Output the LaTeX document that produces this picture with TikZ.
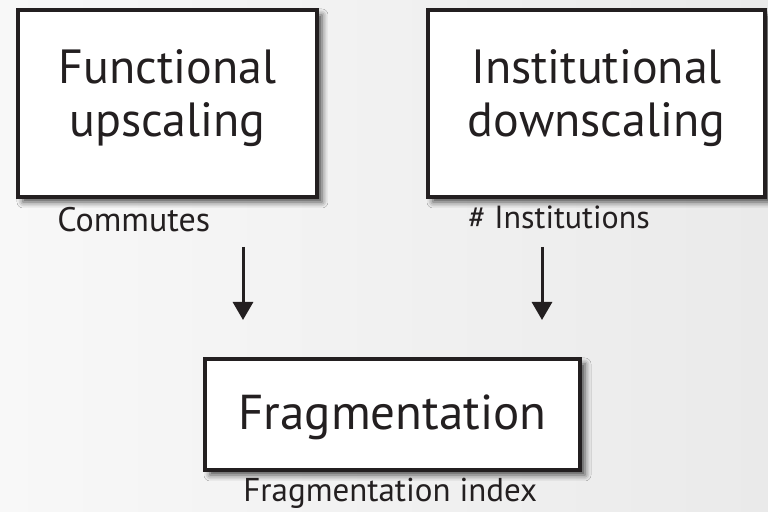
\documentclass[tikz,border=0pt]{standalone}
\usepackage{fontspec}
\setmainfont{PT Sans}
\usetikzlibrary{arrows.meta,shadows.blur}
\definecolor{bgL}{HTML}{F8F8F8}
\definecolor{bgR}{HTML}{EAEAEA}
\definecolor{ink}{HTML}{231F20}
\tikzset{
  mainbox/.style={draw=ink, line width=2pt, fill=white, rectangle, inner sep=0pt,
    blur shadow={shadow xshift=2.5pt, shadow yshift=-2.5pt, shadow blur radius=3pt, shadow opacity=70}},
  bigtext/.style={text=ink, align=center, inner sep=0pt, font=\fontsize{24pt}{26.5pt}\selectfont},
  lbl/.style={text=ink, inner sep=0pt, anchor=base west},
  flow/.style={draw=ink, line width=1.5pt, -{Triangle[width=10pt,length=9pt]}}
}
\begin{document}
\begin{tikzpicture}[x=0.5pt,y=-0.5pt]
\useasboundingbox (0,0) rectangle (768,512);
\shade[left color=bgL, right color=bgR] (0,0) rectangle (768,512);
\node[mainbox, minimum width=149.5pt, minimum height=93.5pt] (fu) at (167.5,103.5) {};
\node[mainbox, minimum width=168.5pt, minimum height=93.5pt] (id) at (596.5,103.5) {};
\node[mainbox, minimum width=187.5pt, minimum height=55.5pt] (fr) at (392.5,414.5) {};
\node[bigtext] (fut) at ([yshift=2.5pt]fu.center) {Functional\\upscaling};
\node[bigtext] (idt) at ([yshift=2.5pt]id.center) {Institutional\\downscaling};
\node[bigtext, font=\fontsize{24.5pt}{26pt}\selectfont] (frt) at ([yshift=-1.5pt]fr.center) {Fragmentation};
\node[lbl, font=\fontsize{17pt}{19pt}\selectfont] (cm) at (57,232) {Commutes};
\node[lbl, font=\fontsize{16pt}{18pt}\selectfont] (in) at (468,229) {\# Institutions};
\node[lbl, font=\fontsize{16.5pt}{18pt}\selectfont] (fi) at (243,502) {Fragmentation index};
\coordinate (a1s) at (243,247);
\coordinate (a1e) at (243,320);
\coordinate (a2s) at (542,247);
\coordinate (a2e) at (542,320);
\draw[flow] (a1s) -- (a1e);
\draw[flow] (a2s) -- (a2e);
\end{tikzpicture}
\end{document}
